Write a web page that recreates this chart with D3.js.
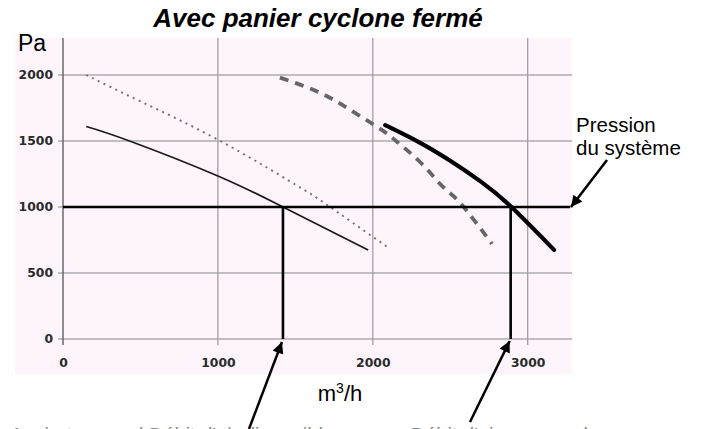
<!DOCTYPE html>
<html>
<head>
<meta charset="utf-8">
<script src="https://cdn.jsdelivr.net/npm/d3@7"></script>
<style>
  html, body { margin: 0; padding: 0; background: #fff; }
  svg { display: block; }
</style>
</head>
<body>
<div id="chart"></div>
<script>
// Fan curves: pressure (Pa) versus air flow (m³/h)
const xTicks = [0, 1000, 2000, 3000];
const yTicks = [0, 500, 1000, 1500, 2000];

const thinSolidFlow = [150, 430, 1000, 1420, 1970];
const thinSolidPa   = [1610, 1500, 1235, 1000, 675];

const dottedFlow = [150, 500, 1000, 1500, 1700, 2090];
const dottedPa   = [2000, 1800, 1510, 1170, 1020, 700];

const dashedFlow = [1400, 1660, 1875, 2070, 2160, 2310, 2455, 2565, 2770];
const dashedPa   = [1980, 1865, 1720, 1575, 1490, 1335, 1150, 1030, 720];

const thickFlow = [2080, 2300, 2500, 2700, 2890, 3170];
const thickPa   = [1620, 1490, 1350, 1190, 1005, 675];

const systemPressure = 1000;
const operatingFlows = [1420, 2890];

const title = "Avec panier cyclone fermé";
const yUnit = "Pa";
const xUnit = "m";
const systemLabel = ["Pression", "du système"];

const W = 701, H = 429;
const svg = d3.select("#chart").append("svg").attr("width", W).attr("height", H);

const x = d3.scaleLinear().domain([0, 3000]).range([63, 527.7]);
const y = d3.scaleLinear().domain([0, 2000]).range([339, 75]);

const plotLeft = 15, plotRight = 572, plotTop = 38, plotBottom = 374;

// pale plot panel
svg.append("rect")
  .attr("x", plotLeft).attr("y", plotTop)
  .attr("width", plotRight - plotLeft).attr("height", plotBottom - plotTop)
  .attr("fill", "#fdf4fc");

// grid
const grid = svg.append("g").attr("stroke", "#858585").attr("stroke-width", 1.2);
grid.selectAll(".h").data(yTicks).join("line")
  .attr("x1", x(0) - 5).attr("x2", plotRight)
  .attr("y1", d => y(d)).attr("y2", d => y(d));
grid.selectAll(".v").data(xTicks.slice(1)).join("line")
  .attr("x1", d => x(d)).attr("x2", d => x(d))
  .attr("y1", plotTop).attr("y2", y(0) + 6)
  .attr("stroke", "#9a9a9a");
svg.append("line")
  .attr("x1", x(0)).attr("x2", x(0))
  .attr("y1", plotTop).attr("y2", y(0) + 6)
  .attr("stroke", "#555").attr("stroke-width", 1.3);

// tick labels via axis generators (domain/ticks hidden); wide bold digits
const tickFont = "'DejaVu Sans', sans-serif";
const yAxis = svg.append("g").attr("transform", `translate(${x(0) - 4},0)`)
  .call(d3.axisLeft(y).tickValues(yTicks).tickSize(0).tickPadding(6).tickFormat(d3.format("d")));
const xAxis = svg.append("g").attr("transform", `translate(0,${y(0) + 17})`)
  .call(d3.axisBottom(x).tickValues(xTicks).tickSize(0).tickPadding(2).tickFormat(d3.format("d")));
[yAxis, xAxis].forEach(a => {
  a.select(".domain").remove();
  a.selectAll("text")
    .attr("font-family", tickFont).attr("font-weight", "bold")
    .attr("font-size", 12)
    .attr("textLength", d => String(d).length * 8.6)
    .attr("lengthAdjust", "spacingAndGlyphs")
    .attr("fill", "#2a2a2a");
});

const zip = (a, b) => a.map((v, i) => [v, b[i]]);
const line = d3.line().x(d => x(d[0])).y(d => y(d[1])).curve(d3.curveNatural);

svg.append("path").datum(zip(dottedFlow, dottedPa)).attr("d", line)
  .attr("fill", "none").attr("stroke", "#707070").attr("stroke-width", 1.9)
  .attr("stroke-dasharray", "2,4.5");
svg.append("path").datum(zip(thinSolidFlow, thinSolidPa)).attr("d", line)
  .attr("fill", "none").attr("stroke", "#1a1a1a").attr("stroke-width", 1.7);
svg.append("path").datum(zip(dashedFlow, dashedPa)).attr("d", line)
  .attr("fill", "none").attr("stroke", "#666").attr("stroke-width", 3.8)
  .attr("stroke-dasharray", "9,7");
svg.append("path").datum(zip(thickFlow, thickPa)).attr("d", line)
  .attr("fill", "none").attr("stroke", "#000").attr("stroke-width", 4.2)
  .attr("stroke-linecap", "round");

// system pressure line and operating points
svg.append("line")
  .attr("x1", x(0)).attr("x2", 570)
  .attr("y1", y(systemPressure)).attr("y2", y(systemPressure))
  .attr("stroke", "#000").attr("stroke-width", 2.5);
svg.selectAll(".drop").data(operatingFlows).join("line")
  .attr("x1", d => x(d)).attr("x2", d => x(d))
  .attr("y1", y(systemPressure)).attr("y2", y(0))
  .attr("stroke", "#000").attr("stroke-width", 2.6);

// arrows
svg.append("defs").append("marker")
  .attr("id", "head").attr("viewBox", "0 0 10 10")
  .attr("refX", 10).attr("refY", 5)
  .attr("markerWidth", 5).attr("markerHeight", 4.5)
  .attr("markerUnits", "strokeWidth")
  .attr("orient", "auto")
  .append("path").attr("d", "M0,0 L10,5 L0,10 z").attr("fill", "#000");

const arrows = [
  [249, 429, x(operatingFlows[0]) - 1, y(0) + 3],
  [470, 422, x(operatingFlows[1]) - 1, y(0) + 2],
  [607, 160, 571, y(systemPressure)]
];
svg.selectAll(".arrow").data(arrows).join("line")
  .attr("x1", d => d[0]).attr("y1", d => d[1])
  .attr("x2", d => d[2]).attr("y2", d => d[3])
  .attr("stroke", "#000").attr("stroke-width", 2.5)
  .attr("marker-end", "url(#head)");

// texts
const font = "'Liberation Sans', Arial, sans-serif";
svg.append("text").text(title)
  .attr("x", 318).attr("y", 27).attr("text-anchor", "middle")
  .attr("font-family", font).attr("font-weight", "bold").attr("font-style", "italic")
  .attr("font-size", 26).attr("fill", "#000");

svg.append("text").text(yUnit)
  .attr("x", 18).attr("y", 51)
  .attr("font-family", font).attr("font-size", 23).attr("fill", "#000");

const xu = svg.append("text")
  .attr("x", 340).attr("y", 401).attr("text-anchor", "middle")
  .attr("font-family", font).attr("font-size", 22).attr("fill", "#000");
xu.append("tspan").text(xUnit);
xu.append("tspan").text("3").attr("font-size", 14).attr("dy", -8);
xu.append("tspan").text("/h").attr("dy", 8);

svg.append("text")
  .attr("font-family", font).attr("font-size", 20.5).attr("fill", "#000")
  .selectAll("tspan").data(systemLabel).join("tspan")
  .attr("x", 576).attr("y", (d, i) => 132 + i * 23).text(d => d);

// captions under the chart, running past the bottom edge of the frame
const captions = [
  { text: "Aspirateur seul       Débit d'air disponible", x: 10 },
  { text: "sans       Débit d'air avec cyclone", x: 363 }
];
svg.selectAll(".cap").data(captions).join("text")
  .attr("x", d => d.x).attr("y", 442)
  .attr("font-family", font).attr("font-size", 20).attr("fill", "#8a8a8a")
  .text(d => d.text);
</script>
</body>
</html>
